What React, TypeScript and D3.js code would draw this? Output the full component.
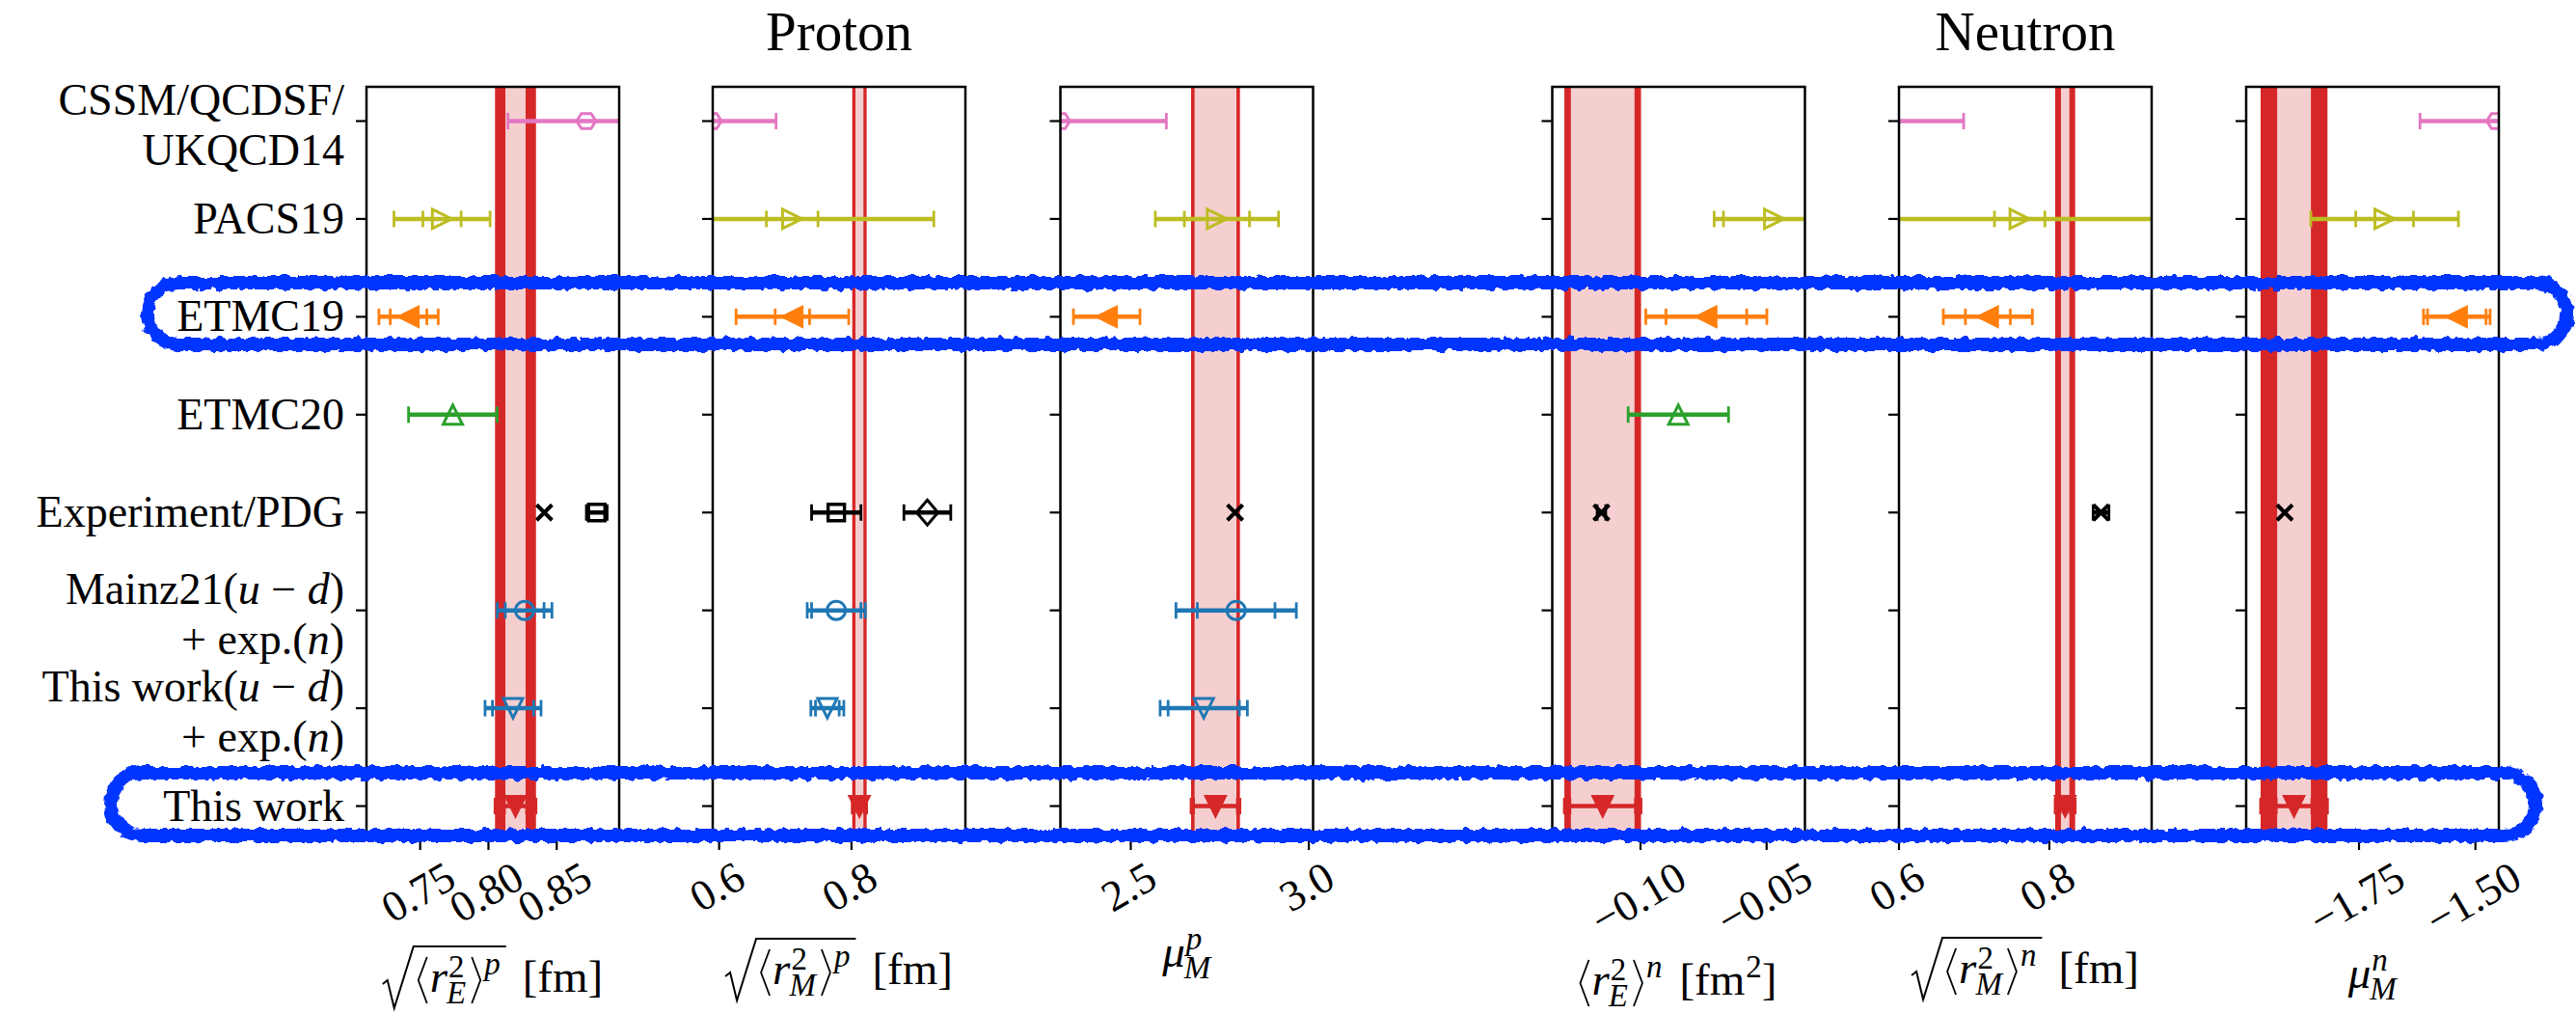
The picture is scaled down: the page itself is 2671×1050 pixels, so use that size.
import React, { useEffect, useRef } from "react";
import * as d3 from "d3";

const W = 2671;
const H = 1050;

// ---------------- data ----------------
// categories (rows, top to bottom); $...$ = italic math
const rowLabels: string[][] = [
  ["CSSM/QCDSF/", "UKQCD14"],
  ["PACS19"],
  ["ETMC19"],
  ["ETMC20"],
  ["Experiment/PDG"],
  ["Mainz21($u$ − $d$)", "+ exp.($n$)"],
  ["This work($u$ − $d$)", "+ exp.($n$)"],
  ["This work"],
];

const groupTitles = ["Proton", "Neutron"];

// axis limits of the six panels
const xDomains: number[][] = [
  [0.7107, 0.8957],
  [0.5903, 0.9721],
  [2.3024, 3.012],
  [-0.135, -0.0348],
  [0.6, 0.936],
  [-1.9923, -1.4497],
];
const xTickValues: number[][] = [
  [0.75, 0.8, 0.85],
  [0.6, 0.8],
  [2.5, 3.0],
  [-0.1, -0.05],
  [0.6, 0.8],
  [-1.75, -1.5],
];
const xTickLabels: string[][] = [
  ["0.75", "0.80", "0.85"],
  ["0.6", "0.8"],
  ["2.5", "3.0"],
  ["−0.10", "−0.05"],
  ["0.6", "0.8"],
  ["−1.75", "−1.50"],
];

// per panel: [value, statistical error, total error]; null = no entry
type Pt = number[] | null;
const cssm: Pt[] = [[0.8716, 0, 0.0574], [0.589, 0, 0.097], [2.302, 0, 0.298], null, [0.58, 0, 0.106], [-1.455, 0, 0.164]];
const pacs19: Pt[] = [[0.766, 0.014, 0.0352], [0.7104, 0.039, 0.214], [2.742, 0.0915, 0.173], [-0.047, 0.0201, 0.0238], [0.7605, 0.0335, 0.3], [-1.695, 0.062, 0.1585]];
const etmc19: Pt[] = [[0.7415, 0.0134, 0.0217], [0.7107, 0.026, 0.0851], [2.4325, 0, 0.0935], [-0.0739, 0.016, 0.024], [0.7182, 0.0298, 0.0592], [-1.54, 0.0628, 0.0715]];
const etmc20: Pt[] = [[0.7739, 0, 0.0324], null, null, [-0.085, 0, 0.0199], null, null];
const expCross: Pt[] = [[0.8409, 0, 0], null, [2.7929, 0, 0], [-0.1155, 0, 0.0017], [0.8687, 0, 0.0105], [-1.9095, 0, 0]];
const expSquare: Pt[] = [[0.8793, 0, 0.0076], [0.777, 0, 0.0373], null, null, null, null];
const expDiamond: Pt[] = [null, [0.9146, 0, 0.0354], null, null, null, null];
const mainz21: Pt[] = [[0.8265, 0.0142, 0.02], [0.777, 0.0373, 0.0439], [2.796, 0.109, 0.169], null, null, null];
const thisWorkUD: Pt[] = [[0.818, 0.0151, 0.0205], [0.7635, 0.0179, 0.0249], [2.705, 0.1, 0.1225], null, null, null];
const thisWork: Pt[] = [[0.8198, 0.0081, 0.015], [0.812, 0.0075, 0.0109], [2.738, 0.0615, 0.0686], [-0.115, 0.013, 0.0152], [0.821, 0.0069, 0.0133], [-1.8895, 0.0383, 0.0718]];

// x-axis label specs
type XLabel = { kind: "radius"; sqrt: boolean; sub: string; sup: string; unitSup: boolean } | { kind: "mu"; sup: string };
const xLabels: XLabel[] = [
  { kind: "radius", sqrt: true, sub: "E", sup: "p", unitSup: false },
  { kind: "radius", sqrt: true, sub: "M", sup: "p", unitSup: false },
  { kind: "mu", sup: "p" },
  { kind: "radius", sqrt: false, sub: "E", sup: "n", unitSup: true },
  { kind: "radius", sqrt: true, sub: "M", sup: "n", unitSup: false },
  { kind: "mu", sup: "n" },
];

// ---------------- styles / layout ----------------
const FONT = "'Liberation Serif', 'Times New Roman', serif";
const RED = "#d62728";
const PINK = "#f5cfcf";
const LOOP = "#0535ff";

const panelLeft = [380, 739, 1099.5, 1609.5, 1969, 2329];
const panelWidth = 262;
const plotTop = 90;
const plotBottom = 869;
const xLabelBaseline = [1028, 1020, 1002, 1031, 1019, 1024];
const titlePanels = [1, 4];

const series = [
  { data: cssm, row: 0, color: "#e377c2", marker: "hexagon", filled: false },
  { data: pacs19, row: 1, color: "#bcbd22", marker: "triRight", filled: false },
  { data: etmc19, row: 2, color: "#ff7f0e", marker: "triLeft", filled: true },
  { data: etmc20, row: 3, color: "#2ca02c", marker: "triUp", filled: false },
  { data: expCross, row: 4, color: "#000000", marker: "x", filled: false },
  { data: expSquare, row: 4, color: "#000000", marker: "square", filled: false },
  { data: expDiamond, row: 4, color: "#000000", marker: "diamond", filled: false },
  { data: mainz21, row: 5, color: "#1f77b4", marker: "circle", filled: false },
  { data: thisWorkUD, row: 6, color: "#1f77b4", marker: "triDown", filled: false },
  { data: thisWork, row: 7, color: RED, marker: "triDown", filled: true },
];

function markerPath(m: string): string {
  const s = 20;
  const h = s / 2;
  switch (m) {
    case "triUp":
      return `M0,${-h} L${h},${h} L${-h},${h} Z`;
    case "triDown":
      return `M0,${h} L${h},${-h} L${-h},${-h} Z`;
    case "triLeft":
      return `M${-h},0 L${h},${-h} L${h},${h} Z`;
    case "triRight":
      return `M${h},0 L${-h},${-h} L${-h},${h} Z`;
    case "circle": {
      const r = 9.5;
      return `M${r},0 A${r},${r} 0 1,1 ${-r},0 A${r},${r} 0 1,1 ${r},0 Z`;
    }
    case "hexagon": {
      const r = 10;
      const pts = d3.range(6).map((i) => {
        const a = (Math.PI / 3) * i;
        return `${(r * Math.cos(a)).toFixed(2)},${(r * Math.sin(a) * 0.9).toFixed(2)}`;
      });
      return `M${pts.join(" L")} Z`;
    }
    case "square":
      return `M-8.5,-8.5 H8.5 V8.5 H-8.5 Z`;
    case "diamond":
      return `M0,-13 L11,0 L0,13 L-11,0 Z`;
    case "x":
      return `M-8,-8 L8,8 M8,-8 L-8,8`;
  }
  return "";
}

function draw(svgEl: SVGSVGElement) {
  const svg = d3.select(svgEl);
  svg.selectAll("*").remove();
  svg.append("rect").attr("width", W).attr("height", H).attr("fill", "#fff");
  const defs = svg.append("defs");
  const filt = defs
    .append("filter")
    .attr("id", "rough")
    .attr("x", "-2%")
    .attr("y", "-40%")
    .attr("width", "104%")
    .attr("height", "180%");
  filt
    .append("feTurbulence")
    .attr("type", "fractalNoise")
    .attr("baseFrequency", "0.12")
    .attr("numOctaves", 2)
    .attr("seed", 4)
    .attr("result", "noise");
  filt
    .append("feDisplacementMap")
    .attr("in", "SourceGraphic")
    .attr("in2", "noise")
    .attr("scale", 8)
    .attr("xChannelSelector", "R")
    .attr("yChannelSelector", "G");

  const y = d3.scaleLinear().domain([-0.35, 7.33]).range([plotTop, plotBottom]);

  const measure = (t: any) => (t.node() as SVGTextElement).getComputedTextLength();

  panelLeft.forEach((px, p) => {
    const x = d3.scaleLinear().domain(xDomains[p]).range([px, px + panelWidth]);
    const clipId = `clip${p}`;
    defs
      .append("clipPath")
      .attr("id", clipId)
      .append("rect")
      .attr("x", px)
      .attr("y", plotTop)
      .attr("width", panelWidth)
      .attr("height", plotBottom - plotTop);
    const g = svg.append("g");
    const pg = g.append("g").attr("clip-path", `url(#${clipId})`);

    // band of "This work"
    const tw = thisWork[p];
    if (tw) {
      const [v, st, tot] = tw;
      pg.append("rect")
        .attr("x", x(v - tot))
        .attr("y", plotTop)
        .attr("width", x(v + tot) - x(v - tot))
        .attr("height", plotBottom - plotTop)
        .attr("fill", RED);
      pg.append("rect")
        .attr("x", x(v - st))
        .attr("y", plotTop - 5)
        .attr("width", x(v + st) - x(v - st))
        .attr("height", plotBottom - plotTop + 10)
        .attr("fill", PINK)
        .attr("stroke", RED)
        .attr("stroke-width", 2);
    }

    // error bars and markers
    series.forEach((s) => {
      const d = s.data[p];
      if (!d) return;
      const [v, st, tot] = d;
      const cy = y(s.row);
      if (tot > 0) {
        pg.append("line")
          .attr("x1", x(v - tot))
          .attr("x2", x(v + tot))
          .attr("y1", cy)
          .attr("y2", cy)
          .attr("stroke", s.color)
          .attr("stroke-width", 4.5);
        const caps = [v - tot, v + tot];
        if (st > 0) caps.push(v - st, v + st);
        caps.forEach((c) =>
          pg.append("line")
            .attr("x1", x(c))
            .attr("x2", x(c))
            .attr("y1", cy - 8.5)
            .attr("y2", cy + 8.5)
            .attr("stroke", s.color)
            .attr("stroke-width", 2.8)
        );
      }
      pg.append("path")
        .attr("d", markerPath(s.marker))
        .attr("transform", `translate(${x(v)},${cy})`)
        .attr("fill", s.filled ? s.color : "none")
        .attr("stroke", s.color)
        .attr("stroke-width", s.marker === "x" ? 4 : s.marker === "square" ? 3.4 : 3)
        .attr("stroke-linejoin", "miter");
    });

    // spines
    g.append("rect")
      .attr("x", px)
      .attr("y", plotTop)
      .attr("width", panelWidth)
      .attr("height", plotBottom - plotTop)
      .attr("fill", "none")
      .attr("stroke", "#000")
      .attr("stroke-width", 2.5);

    // y ticks
    rowLabels.forEach((_, i) => {
      g.append("line")
        .attr("x1", px - 11)
        .attr("x2", px)
        .attr("y1", y(i))
        .attr("y2", y(i))
        .attr("stroke", "#000")
        .attr("stroke-width", 2.2);
    });

    // x ticks and rotated labels
    xTickValues[p].forEach((tv, k) => {
      const tx = x(tv);
      g.append("line")
        .attr("x1", tx)
        .attr("x2", tx)
        .attr("y1", plotBottom)
        .attr("y2", plotBottom + 12)
        .attr("stroke", "#000")
        .attr("stroke-width", 2.2);
      const fs = 45;
      const t = g
        .append("text")
        .attr("font-family", FONT)
        .attr("font-size", fs)
        .attr("text-anchor", "middle")
        .attr("x", 0)
        .attr("y", 0.33 * fs)
        .text(xTickLabels[p][k]);
      const L = measure(t);
      const hgt = L * Math.sin(Math.PI / 6) + 0.68 * fs * Math.cos(Math.PI / 6);
      const cy = plotBottom + 12 + 11 + hgt / 2;
      t.attr("transform", `translate(${tx - 2},${cy}) rotate(-30)`);
    });

    // x label
    drawXLabel(svg, xLabels[p], px + panelWidth / 2, xLabelBaseline[p]);
  });

  // y tick labels (first panel only)
  rowLabels.forEach((lines, i) => {
    const cy = y(i);
    const baselines = lines.length === 1 ? [cy + 15] : [cy - 7, cy + 45];
    lines.forEach((ln, j) => {
      const t = svg
        .append("text")
        .attr("x", 357)
        .attr("y", baselines[j])
        .attr("font-family", FONT)
        .attr("font-size", 46)
        .attr("text-anchor", "end")
        .attr("fill", "#000");
      ln.split("$").forEach((part, q) => {
        if (!part) return;
        t.append("tspan").attr("font-style", q % 2 ? "italic" : "normal").text(part);
      });
    });
  });

  // group titles
  groupTitles.forEach((title, i) => {
    const p = titlePanels[i];
    svg.append("text")
      .attr("x", panelLeft[p] + panelWidth / 2)
      .attr("y", 52)
      .attr("font-family", FONT)
      .attr("font-size", 57)
      .attr("text-anchor", "middle")
      .attr("fill", "#000")
      .text(title);
  });

  // hand-drawn highlight loops
  const loops = [
    [153, 293, 2662, 357],
    [115, 801, 2629, 866],
  ];
  loops.forEach(([x0, y0, x1, y1]) => {
    svg.append("rect")
      .attr("x", x0)
      .attr("y", y0)
      .attr("width", x1 - x0)
      .attr("height", y1 - y0)
      .attr("rx", (y1 - y0) / 2)
      .attr("ry", (y1 - y0) / 2)
      .attr("fill", "none")
      .attr("stroke", LOOP)
      .attr("stroke-width", 14)
      .attr("filter", "url(#rough)");
  });
}

function drawXLabel(parent: any, spec: XLabel, cx: number, B: number) {
  const F = 47;
  const S = 33;
  const g = parent.append("g");
  const txt = (s: string, xx: number, yy: number, size: number, italic: boolean) => {
    const t = g
      .append("text")
      .attr("x", xx)
      .attr("y", yy)
      .attr("font-size", size)
      .attr("font-family", FONT)
      .attr("font-style", italic ? "italic" : "normal")
      .attr("fill", "#000")
      .text(s);
    return (t.node() as SVGTextElement).getComputedTextLength();
  };
  const stroke = (d: string, w: number) =>
    g.append("path").attr("d", d).attr("fill", "none").attr("stroke", "#000").attr("stroke-width", w);
  let x = 0;
  if (spec.kind === "mu") {
    x += txt("μ", x, B, F, true);
    const w1 = txt(spec.sup, x + 1, B - 18, S, true);
    const w2 = txt("M", x - 1, B + 12, S, true);
    x += Math.max(w1, w2);
  } else {
    const innerStart = spec.sqrt ? 32 : 0;
    x = innerStart + 2;
    stroke(`M${x + 12},${B - 36} L${x + 3},${B - 12} L${x + 12},${B + 12}`, 1.8);
    x += 15;
    x += txt("r", x, B, F, true) + 1;
    const w1 = txt("2", x, B - 15, S, false);
    const w2 = txt(spec.sub, x - 2, B + 12, S, true);
    x += Math.max(w1, w2 - 2) + 4;
    stroke(`M${x + 2},${B - 36} L${x + 11},${B - 12} L${x + 2},${B + 12}`, 1.8);
    x += 14;
    x += txt(spec.sup, x + 1, B - 18, S, true) + 2;
    if (spec.sqrt) {
      stroke(`M0,${B - 8} L5,${B - 12} L12,${B + 17} L32,${B - 47} H${x + 5}`, 2);
      x += 5;
    }
    x += 17;
    x += txt("[fm", x, B, F, false);
    if (spec.unitSup) x += txt("2", x + 1, B - 18, S, false) + 1;
    x += txt("]", x, B, F, false);
  }
  const bb = (g.node() as SVGGElement).getBBox();
  g.attr("transform", `translate(${cx - (bb.x + bb.width / 2)},0)`);
}

export default function App() {
  const ref = useRef<SVGSVGElement>(null);
  useEffect(() => {
    if (ref.current) draw(ref.current);
  }, []);
  return (
    <svg
      ref={ref}
      width={W}
      height={H}
      style={{ position: "absolute", left: 0, top: 0, background: "#fff" }}
    />
  );
}
